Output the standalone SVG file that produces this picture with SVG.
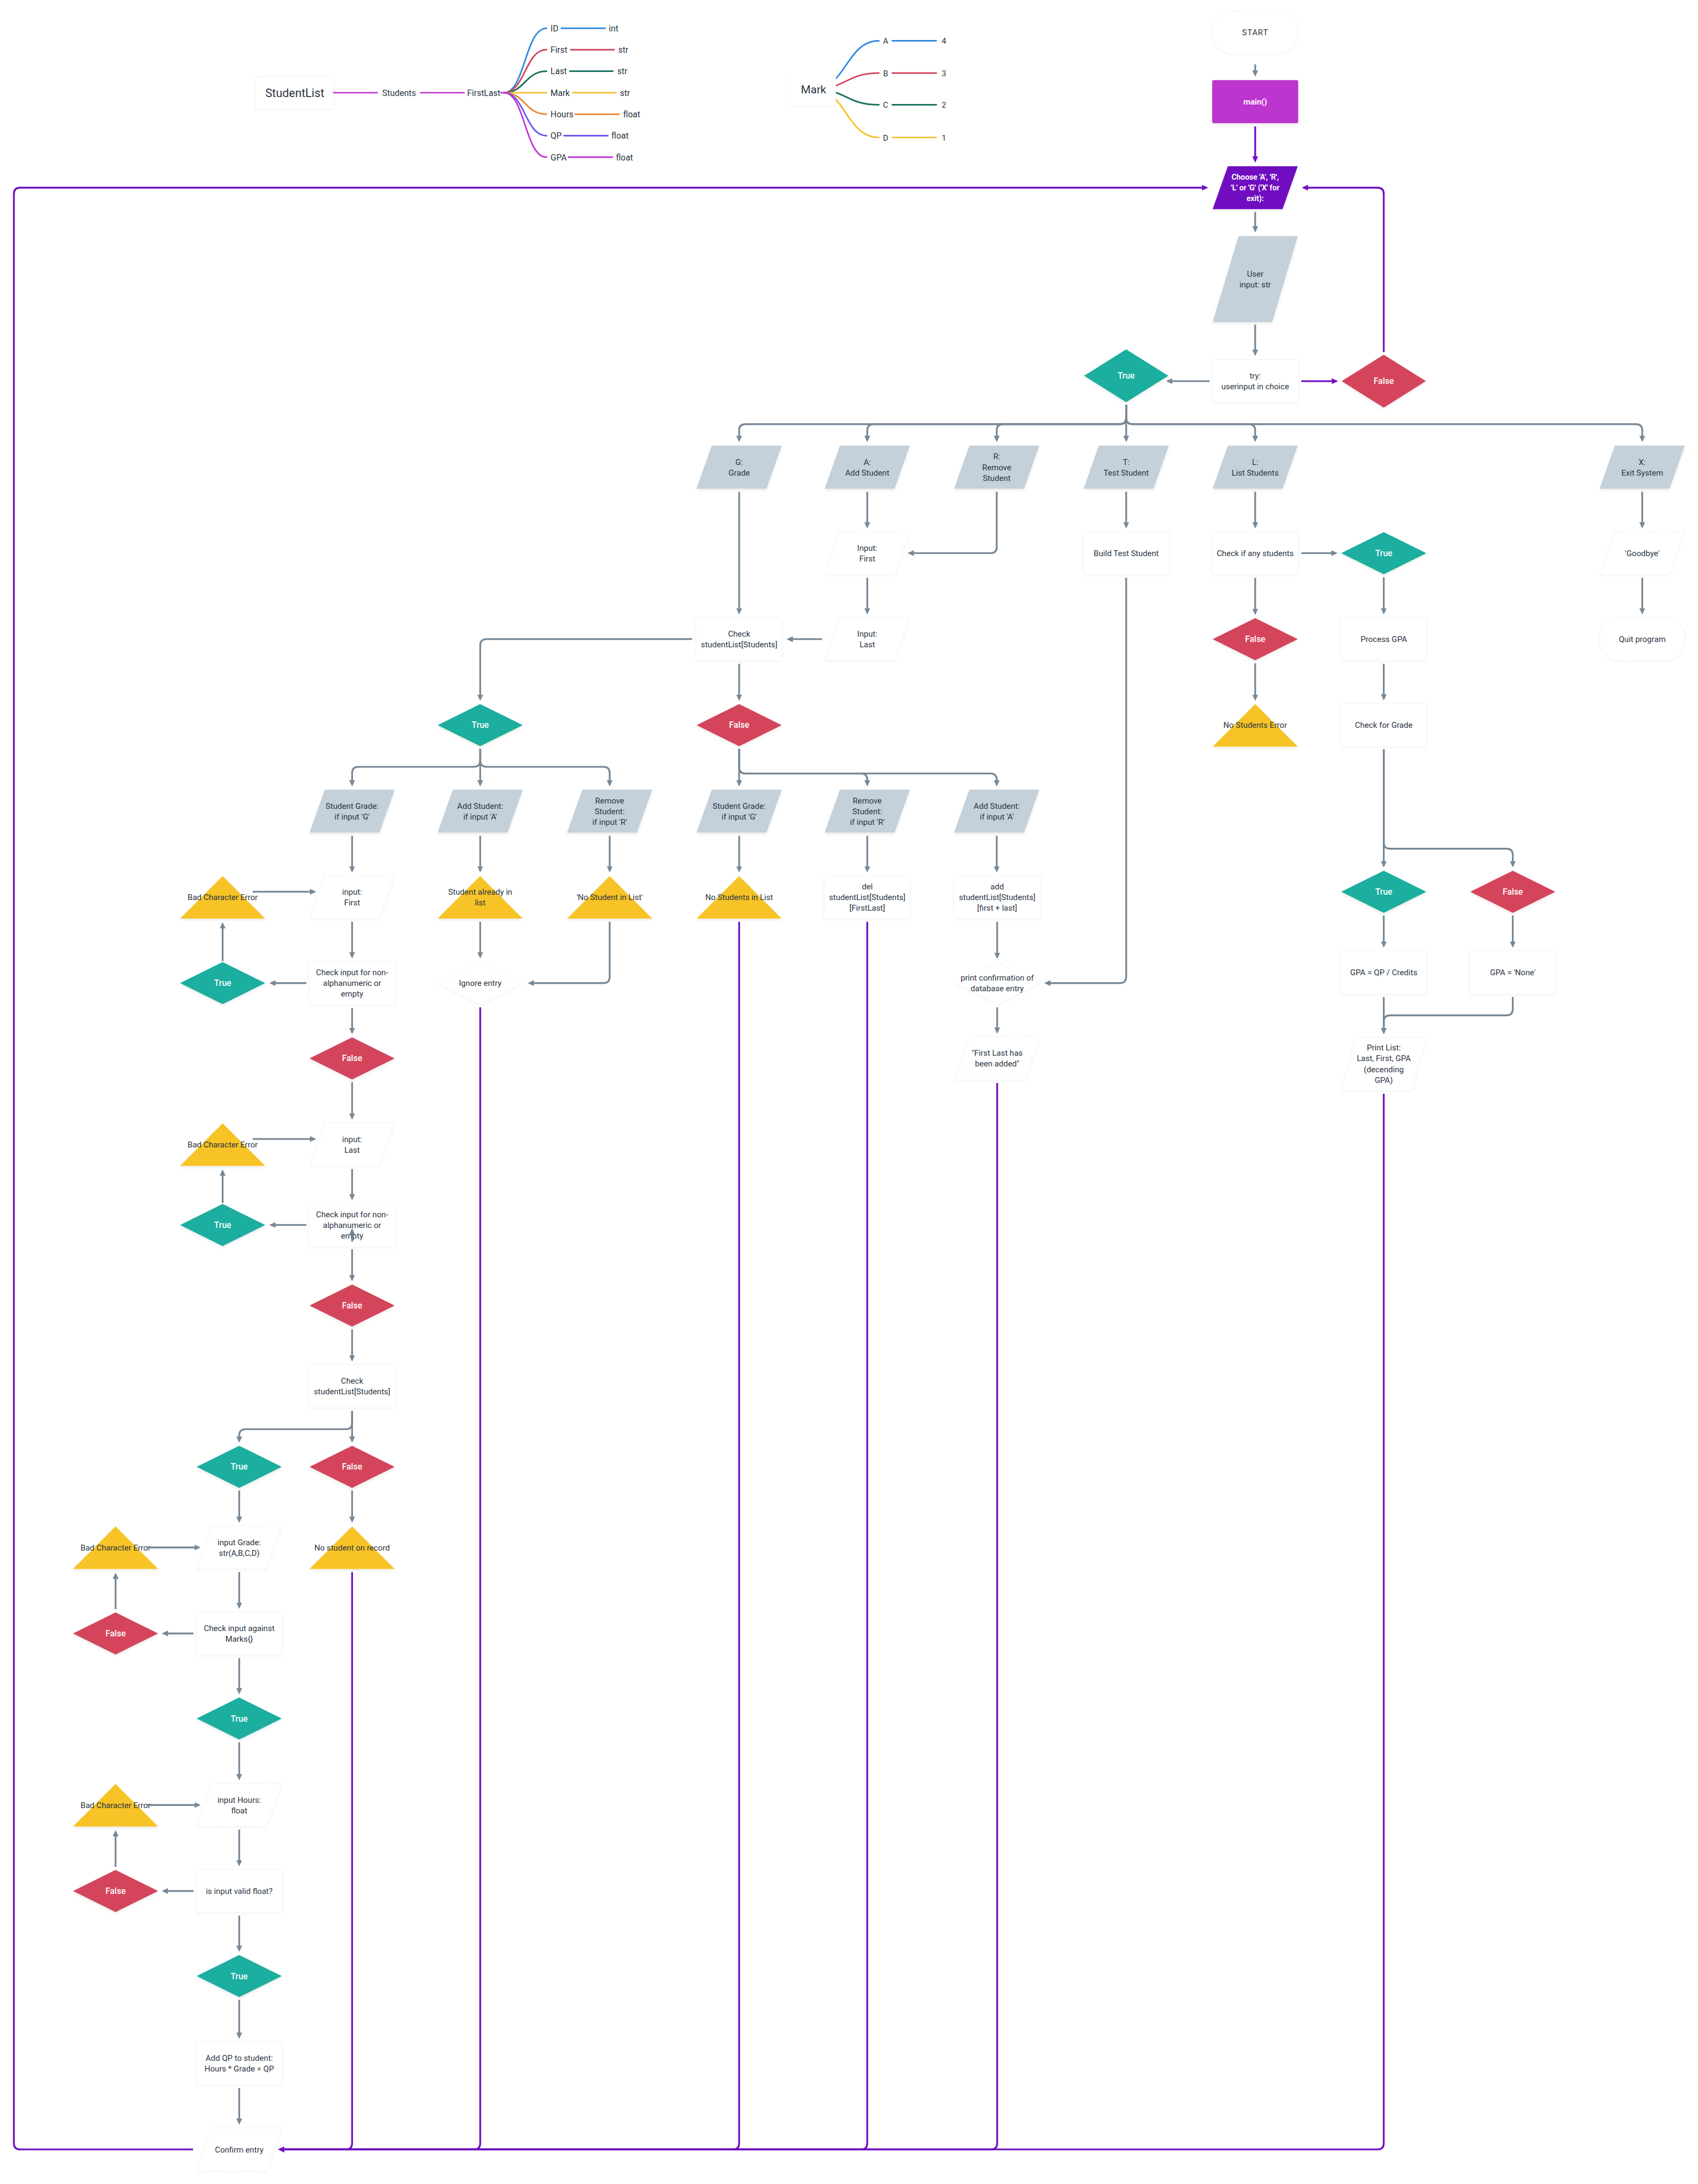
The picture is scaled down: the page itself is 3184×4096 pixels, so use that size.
<svg xmlns="http://www.w3.org/2000/svg" width="3184" height="4096" viewBox="0 0 3184 4096">
<defs>
<style>
.c{fill:none;stroke:#788896;stroke-width:4;marker-end:url(#ag)}
.p{fill:none;stroke:#7010c0;stroke-width:4;marker-end:url(#ap)}
.t{font-family:Roboto,"Liberation Sans",sans-serif;font-size:18px;fill:#2a3542;text-anchor:middle}
.w{fill:#ffffff;font-weight:500;font-size:19px}
.b{fill:#ffffff;font-weight:700}
.gp{fill:#c4d0da;filter:url(#sh)}
.wr{fill:#ffffff;stroke:#f1f2f4;stroke-width:1;filter:url(#shl)}
.wd{fill:#ffffff;stroke:#e4e7ea;stroke-width:1;stroke-dasharray:4 4;filter:url(#shl)}
.tr{fill:#1bae9f;filter:url(#sh)}
.fa{fill:#d4455c;filter:url(#sh)}
.yl{fill:#f7c325;filter:url(#sh)}
.sh{filter:url(#sh)}
.mt{font-family:Roboto,"Liberation Sans",sans-serif;font-size:19px;fill:#2a3542}
.ml{fill:none;stroke-width:3.5;stroke-linecap:round}
</style>
<marker id="ag" viewBox="0 0 14 14" refX="10" refY="7" markerWidth="14" markerHeight="14" markerUnits="userSpaceOnUse" orient="auto"><path d="M0,0.5 L14,7 L0,13.5 Z" fill="#788896"/></marker>
<marker id="ap" viewBox="0 0 14 14" refX="10" refY="7" markerWidth="14" markerHeight="14" markerUnits="userSpaceOnUse" orient="auto"><path d="M0,0.5 L14,7 L0,13.5 Z" fill="#7010c0"/></marker>
<filter id="sh" x="-10%" y="-10%" width="120%" height="130%"><feDropShadow dx="0" dy="3" stdDeviation="3" flood-color="#000000" flood-opacity="0.09"/></filter>
<filter id="shl" x="-10%" y="-10%" width="120%" height="130%"><feDropShadow dx="0" dy="2" stdDeviation="3" flood-color="#000000" flood-opacity="0.045"/></filter>
</defs>
<rect width="3184" height="4096" fill="#ffffff"/>
<g transform="scale(0.84)">

<g id="mm-studentlist">
<path class="ml" stroke="#3089df" d="M1125,207 C1172,207 1172,63 1220,63"/>
<path class="ml" stroke="#d4455c" d="M1125,207 C1172,207 1172,111 1220,111"/>
<path class="ml" stroke="#1b7260" d="M1125,207 C1172,207 1172,159 1220,159"/>
<path class="ml" stroke="#f6c12a" d="M1125,207 H1220"/>
<path class="ml" stroke="#eb883b" d="M1125,207 C1172,207 1172,255 1220,255"/>
<path class="ml" stroke="#6658f0" d="M1125,207 C1172,207 1172,303 1220,303"/>
<path class="ml" stroke="#c036d0" d="M1125,207 C1172,207 1172,351 1220,351"/>
<path class="ml" stroke="#c036d0" d="M1118,207 H1136"/>
<rect x="570" y="172" width="175" height="71" rx="4" class="wr"/>
<text x="658" y="217" class="t" style="font-size:26px">StudentList</text>
<path class="ml" stroke="#c036d0" d="M745,207 H842"/>
<text x="891" y="214" class="t" style="font-size:19px">Students</text>
<path class="ml" stroke="#c036d0" d="M939,207 H1036"/>
<text x="1080" y="214" class="t" style="font-size:19px">FirstLast</text>
<text x="1229" y="70" class="mt">ID</text><path class="ml" stroke="#3089df" d="M1253,63 H1351"/><text x="1359" y="70" class="mt">int</text>
<text x="1229" y="118" class="mt">First</text><path class="ml" stroke="#d4455c" d="M1274,111 H1371"/><text x="1380" y="118" class="mt">str</text>
<text x="1229" y="166" class="mt">Last</text><path class="ml" stroke="#1b7260" d="M1272,159 H1368"/><text x="1378" y="166" class="mt">str</text>
<text x="1229" y="214" class="mt">Mark</text><path class="ml" stroke="#f6c12a" d="M1278,207 H1375"/><text x="1384" y="214" class="mt">str</text>
<text x="1229" y="262" class="mt">Hours</text><path class="ml" stroke="#eb883b" d="M1284,255 H1382"/><text x="1391" y="262" class="mt">float</text>
<text x="1229" y="310" class="mt">QP</text><path class="ml" stroke="#6658f0" d="M1259,303 H1357"/><text x="1365" y="310" class="mt">float</text>
<text x="1229" y="358" class="mt">GPA</text><path class="ml" stroke="#c036d0" d="M1269,351 H1367"/><text x="1375" y="358" class="mt">float</text>
</g>

<g id="mm-mark">
<path class="ml" stroke="#3089df" d="M1816,199 C1889,199 1889,91 1962,91"/>
<path class="ml" stroke="#d4455c" d="M1816,199 C1889,199 1889,163 1962,163"/>
<path class="ml" stroke="#1b7260" d="M1816,199 C1889,199 1889,234 1962,234"/>
<path class="ml" stroke="#f6c12a" d="M1816,199 C1889,199 1889,307 1962,307"/>
<rect x="1765" y="162" width="101" height="73" rx="4" fill="#ffffff" style="filter:url(#shl)"/>
<text x="1816" y="208" class="t" style="font-size:25px">Mark</text>
<text x="1977" y="98" class="t">A</text><path class="ml" stroke="#3089df" d="M1992,91 H2090"/><text x="2107" y="98" class="t">4</text>
<text x="1977" y="170" class="t">B</text><path class="ml" stroke="#d4455c" d="M1992,163 H2090"/><text x="2107" y="170" class="t">3</text>
<text x="1977" y="241" class="t">C</text><path class="ml" stroke="#1b7260" d="M1992,234 H2090"/><text x="2107" y="241" class="t">2</text>
<text x="1977" y="314" class="t">D</text><path class="ml" stroke="#f6c12a" d="M1992,307 H2090"/><text x="2107" y="314" class="t">1</text>
</g>

<g id="nodes">
<g id="n-start"><rect x="2706" y="25" width="192" height="95" rx="47.5" class="wd"/><text x="2802" y="78.5" class="t" letter-spacing="1">START</text></g>
<g id="n-main"><rect x="2706" y="179" width="192" height="96" rx="4" fill="#bd35cf" class="sh"/><text x="2802" y="233.5" class="t b">main()</text></g>
<g id="n-choose"><polygon points="2741,371 2897,371 2863,467 2707,467" fill="#7010c0" class="sh"/><text class="t b" style="font-size:17px"><tspan x="2802" y="401">Choose 'A', 'R',</tspan><tspan x="2802" y="425">'L' or 'G' ('X' for</tspan><tspan x="2802" y="449">exit):</tspan></text></g>
<g id="n-userinput"><polygon points="2765,527 2897,527 2840,719 2707,719" class="gp"/><text class="t"><tspan x="2802" y="617.5">User</tspan><tspan x="2802" y="641.5">input: str</tspan></text></g>
<g id="n-try"><rect x="2706" y="803" width="193" height="95" rx="4" class="wr"/><text class="t"><tspan x="2802" y="845.5">try:</tspan><tspan x="2802" y="869.5">userinput in choice</tspan></text></g>
<g id="n-true1"><polygon points="2514,780 2608,839 2514,898 2420,839" class="tr"/><text x="2514" y="845.5" class="t w">True</text></g>
<g id="n-false1"><polygon points="3089,792 3183,851 3089,910 2995,851" class="fa"/><text x="3089" y="857.5" class="t w">False</text></g>

<g id="n-g"><polygon points="1589,995 1745,995 1711,1091 1555,1091" class="gp"/><text class="t"><tspan x="1650" y="1037.5">G:</tspan><tspan x="1650" y="1061.5">Grade</tspan></text></g>
<g id="n-a"><polygon points="1875,995 2031,995 1997,1091 1841,1091" class="gp"/><text class="t"><tspan x="1936" y="1037.5">A:</tspan><tspan x="1936" y="1061.5">Add Student</tspan></text></g>
<g id="n-r"><polygon points="2164,995 2320,995 2286,1091 2130,1091" class="gp"/><text class="t"><tspan x="2225" y="1025.5">R:</tspan><tspan x="2225" y="1049.5">Remove</tspan><tspan x="2225" y="1073.5">Student</tspan></text></g>
<g id="n-t"><polygon points="2453,995 2609,995 2575,1091 2419,1091" class="gp"/><text class="t"><tspan x="2514" y="1037.5">T:</tspan><tspan x="2514" y="1061.5">Test Student</tspan></text></g>
<g id="n-l"><polygon points="2741,995 2897,995 2863,1091 2707,1091" class="gp"/><text class="t"><tspan x="2802" y="1037.5">L:</tspan><tspan x="2802" y="1061.5">List Students</tspan></text></g>
<g id="n-x"><polygon points="3605,995 3761,995 3727,1091 3571,1091" class="gp"/><text class="t"><tspan x="3666" y="1037.5">X:</tspan><tspan x="3666" y="1061.5">Exit System</tspan></text></g>

<g id="n-inputfirst1"><polygon points="1875,1187 2031,1187 1997,1283 1841,1283" class="wd"/><text class="t"><tspan x="1936" y="1229.5">Input:</tspan><tspan x="1936" y="1253.5">First</tspan></text></g>
<g id="n-buildtest"><rect x="2418" y="1187" width="192" height="96" rx="4" class="wr"/><text x="2514" y="1241.5" class="t">Build Test Student</text></g>
<g id="n-checkany"><rect x="2706" y="1187" width="192" height="96" rx="4" class="wr"/><text x="2802" y="1241.5" class="t">Check if any students</text></g>
<g id="n-true2"><polygon points="3089,1188 3184,1235 3089,1282 2994,1235" class="tr"/><text x="3089" y="1241.5" class="t w">True</text></g>
<g id="n-goodbye"><polygon points="3605,1187 3761,1187 3727,1283 3571,1283" class="wd"/><text x="3666" y="1241.5" class="t">'Goodbye'</text></g>

<g id="n-checklist1"><rect x="1554" y="1379" width="192" height="96" rx="4" class="wr"/><text class="t"><tspan x="1650" y="1421.5">Check</tspan><tspan x="1650" y="1445.5">studentList[Students]</tspan></text></g>
<g id="n-inputlast1"><polygon points="1875,1379 2031,1379 1997,1475 1841,1475" class="wd"/><text class="t"><tspan x="1936" y="1421.5">Input:</tspan><tspan x="1936" y="1445.5">Last</tspan></text></g>
<g id="n-false2"><polygon points="2802,1380 2897,1427 2802,1474 2707,1427" class="fa"/><text x="2802" y="1433.5" class="t w">False</text></g>
<g id="n-processgpa"><rect x="2993" y="1379" width="192" height="96" rx="4" class="wr"/><text x="3089" y="1433.5" class="t">Process GPA</text></g>
<g id="n-quit"><rect x="3570" y="1379" width="192" height="96" rx="48" class="wd"/><text x="3666" y="1433.5" class="t">Quit program</text></g>

<g id="n-true3"><polygon points="1072,1572 1167,1619 1072,1666 977,1619" class="tr"/><text x="1072" y="1625.5" class="t w">True</text></g>
<g id="n-false3"><polygon points="1650,1572 1745,1619 1650,1666 1555,1619" class="fa"/><text x="1650" y="1625.5" class="t w">False</text></g>
<g id="n-nostudentserr"><polygon points="2802,1572 2897,1667 2707,1667" class="yl"/><text x="2802" y="1625.5" class="t">No Students Error</text></g>
<g id="n-checkgrade"><rect x="2993" y="1571" width="192" height="96" rx="4" class="wr"/><text x="3089" y="1625.5" class="t">Check for Grade</text></g>

<g id="n-sg1"><polygon points="725,1763 881,1763 847,1859 691,1859" class="gp"/><text class="t"><tspan x="786" y="1805.5">Student Grade:</tspan><tspan x="786" y="1829.5">if input 'G'</tspan></text></g>
<g id="n-as1"><polygon points="1011,1763 1167,1763 1133,1859 977,1859" class="gp"/><text class="t"><tspan x="1072" y="1805.5">Add Student:</tspan><tspan x="1072" y="1829.5">if input 'A'</tspan></text></g>
<g id="n-rs1"><polygon points="1300,1763 1456,1763 1422,1859 1266,1859" class="gp"/><text class="t"><tspan x="1361" y="1793.5">Remove</tspan><tspan x="1361" y="1817.5">Student:</tspan><tspan x="1361" y="1841.5">if input 'R'</tspan></text></g>
<g id="n-sg2"><polygon points="1589,1763 1745,1763 1711,1859 1555,1859" class="gp"/><text class="t"><tspan x="1650" y="1805.5">Student Grade:</tspan><tspan x="1650" y="1829.5">if input 'G'</tspan></text></g>
<g id="n-rs2"><polygon points="1875,1763 2031,1763 1997,1859 1841,1859" class="gp"/><text class="t"><tspan x="1936" y="1793.5">Remove</tspan><tspan x="1936" y="1817.5">Student:</tspan><tspan x="1936" y="1841.5">if input 'R'</tspan></text></g>
<g id="n-as2"><polygon points="2164,1763 2320,1763 2286,1859 2130,1859" class="gp"/><text class="t"><tspan x="2225" y="1805.5">Add Student:</tspan><tspan x="2225" y="1829.5">if input 'A'</tspan></text></g>

<g id="n-badchar1"><polygon points="497,1956 592,2051 402,2051" class="yl"/><text x="497" y="2009.5" class="t">Bad Character Error</text></g>
<g id="n-inputfirst2"><polygon points="725,1955 881,1955 847,2051 691,2051" class="wd"/><text class="t"><tspan x="786" y="1997.5">input:</tspan><tspan x="786" y="2021.5">First</tspan></text></g>
<g id="n-already"><polygon points="1072,1956 1167,2051 977,2051" class="yl"/><text class="t"><tspan x="1072" y="1997.5">Student already in</tspan><tspan x="1072" y="2021.5">list</tspan></text></g>
<g id="n-nostudentinlist"><polygon points="1361,1956 1456,2051 1266,2051" class="yl"/><text x="1361" y="2009.5" class="t">'No Student in List'</text></g>
<g id="n-nostudentsinlist"><polygon points="1650,1956 1745,2051 1555,2051" class="yl"/><text x="1650" y="2009.5" class="t">No Students in List</text></g>
<g id="n-del"><rect x="1840" y="1955" width="192" height="96" rx="4" class="wr"/><text class="t"><tspan x="1936" y="1985.5">del</tspan><tspan x="1936" y="2009.5">studentList[Students]</tspan><tspan x="1936" y="2033.5">[FirstLast]</tspan></text></g>
<g id="n-add"><rect x="2129" y="1955" width="194" height="96" rx="4" class="wr"/><text class="t"><tspan x="2226" y="1985.5">add</tspan><tspan x="2226" y="2009.5">studentList[Students]</tspan><tspan x="2226" y="2033.5">[first + last]</tspan></text></g>
<g id="n-true4"><polygon points="3089,1944 3184,1991 3089,2038 2994,1991" class="tr"/><text x="3089" y="1997.5" class="t w">True</text></g>
<g id="n-false4"><polygon points="3377,1944 3472,1991 3377,2038 3282,1991" class="fa"/><text x="3377" y="1997.5" class="t w">False</text></g>

<g id="n-true5"><polygon points="497,2148 592,2195 497,2242 402,2195" class="tr"/><text x="497" y="2201.5" class="t w">True</text></g>
<g id="n-checkinput1"><rect x="690" y="2147" width="192" height="97" rx="4" class="wr"/><text class="t"><tspan x="786" y="2177.5">Check input for non-</tspan><tspan x="786" y="2201.5">alphanumeric or</tspan><tspan x="786" y="2225.5">empty</tspan></text></g>
<g id="n-ignore"><polygon points="1072,2147 1167,2195 1072,2243 977,2195" class="wd"/><text x="1072" y="2201.5" class="t">Ignore entry</text></g>
<g id="n-printconf"><polygon points="2226,2148 2321,2195 2226,2243 2131,2195" class="wd"/><text class="t"><tspan x="2226" y="2189.5">print confirmation of</tspan><tspan x="2226" y="2213.5">database entry</tspan></text></g>
<g id="n-gpaqp"><rect x="2993" y="2123" width="192" height="96" rx="4" class="wr"/><text x="3089" y="2177.5" class="t">GPA = QP / Credits</text></g>
<g id="n-gpanone"><rect x="3281" y="2123" width="192" height="96" rx="4" class="wr"/><text x="3377" y="2177.5" class="t">GPA = 'None'</text></g>

<g id="n-false5"><polygon points="786,2316 881,2363 786,2410 691,2363" class="fa"/><text x="786" y="2369.5" class="t w">False</text></g>
<g id="n-added"><polygon points="2166,2315 2321,2315 2288,2411 2131,2411" class="wd"/><text class="t"><tspan x="2226" y="2357.5">"First Last has</tspan><tspan x="2226" y="2381.5">been added"</tspan></text></g>
<g id="n-printlist"><polygon points="3028,2316 3185,2316 3151,2435 2994,2435" class="wd"/><text class="t"><tspan x="3089" y="2345.5">Print List:</tspan><tspan x="3089" y="2369.5">Last, First, GPA</tspan><tspan x="3089" y="2393.5">(decending</tspan><tspan x="3089" y="2417.5">GPA)</tspan></text></g>

<g id="n-badchar2"><polygon points="497,2508 592,2603 402,2603" class="yl"/><text x="497" y="2561.5" class="t">Bad Character Error</text></g>
<g id="n-inputlast2"><polygon points="726,2507 882,2507 846,2603 691,2603" class="wd"/><text class="t"><tspan x="786" y="2549.5">input:</tspan><tspan x="786" y="2573.5">Last</tspan></text></g>

<g id="n-true6"><polygon points="497,2688 592,2735 497,2782 402,2735" class="tr"/><text x="497" y="2741.5" class="t w">True</text></g>
<g id="n-checkinput2"><rect x="690" y="2687" width="193" height="96" rx="4" class="wr"/><text class="t"><tspan x="786" y="2717.5">Check input for non-</tspan><tspan x="786" y="2741.5">alphanumeric or</tspan><tspan x="786" y="2765.5">empty</tspan></text></g>
<g id="n-false6"><polygon points="786,2868 881,2915 786,2962 691,2915" class="fa"/><text x="786" y="2921.5" class="t w">False</text></g>
<g id="n-checklist2"><rect x="690" y="3047" width="192" height="96" rx="4" class="wr"/><text class="t"><tspan x="786" y="3089.5">Check</tspan><tspan x="786" y="3113.5">studentList[Students]</tspan></text></g>

<g id="n-true7"><polygon points="534,3228 629,3275 534,3322 439,3275" class="tr"/><text x="534" y="3281.5" class="t w">True</text></g>
<g id="n-false7"><polygon points="786,3228 881,3275 786,3322 691,3275" class="fa"/><text x="786" y="3281.5" class="t w">False</text></g>

<g id="n-badchar3"><polygon points="258,3408 353,3503 163,3503" class="yl"/><text x="258" y="3461.5" class="t">Bad Character Error</text></g>
<g id="n-inputgrade"><polygon points="473,3407 629,3407 595,3503 439,3503" class="wd"/><text class="t"><tspan x="534" y="3449.5">input Grade:</tspan><tspan x="534" y="3473.5">str(A,B,C,D)</tspan></text></g>
<g id="n-norecord"><polygon points="786,3408 881,3503 691,3503" class="yl"/><text x="786" y="3461.5" class="t">No student on record</text></g>

<g id="n-false8"><polygon points="258,3600 353,3647 258,3694 163,3647" class="fa"/><text x="258" y="3653.5" class="t w">False</text></g>
<g id="n-checkmarks"><rect x="438" y="3599" width="192" height="96" rx="4" class="wr"/><text class="t"><tspan x="534" y="3641.5">Check input against</tspan><tspan x="534" y="3665.5">Marks{}</tspan></text></g>
<g id="n-true8"><polygon points="534,3790 629,3837 534,3884 439,3837" class="tr"/><text x="534" y="3843.5" class="t w">True</text></g>

<g id="n-badchar4"><polygon points="258,3983 353,4078 163,4078" class="yl"/><text x="258" y="4036.5" class="t">Bad Character Error</text></g>
<g id="n-inputhours"><polygon points="473,3982 629,3982 595,4078 439,4078" class="wd"/><text class="t"><tspan x="534" y="4024.5">input Hours:</tspan><tspan x="534" y="4048.5">float</tspan></text></g>
<g id="n-false9"><polygon points="258,4175 353,4222 258,4269 163,4222" class="fa"/><text x="258" y="4228.5" class="t w">False</text></g>
<g id="n-validfloat"><rect x="438" y="4174" width="192" height="96" rx="4" class="wr"/><text x="534" y="4228.5" class="t">is input valid float?</text></g>
<g id="n-true9"><polygon points="534,4365 629,4412 534,4459 439,4412" class="tr"/><text x="534" y="4418.5" class="t w">True</text></g>
<g id="n-addqp"><rect x="438" y="4559" width="192" height="96" rx="4" class="wr"/><text class="t"><tspan x="534" y="4601.5">Add QP to student:</tspan><tspan x="534" y="4625.5">Hours * Grade = QP</tspan></text></g>
<g id="n-confirm"><polygon points="474,4751 629,4751 595,4847 438,4847" class="wd"/><text x="534" y="4805.5" class="t">Confirm entry</text></g>
</g>

<g id="connectors">
<path class="c" d="M2802,144 V167"/>
<path class="p" d="M2802,282 V359"/>
<path class="c" d="M2802,473 V515"/>
<path class="c" d="M2802,725 V791"/>
<path class="c" d="M2700,851 H2607"/>
<path class="p" d="M2905,851 H2983"/>
<path class="p" d="M3089,786 V433 Q3089,419 3075,419 H2910"/>
<path class="c" d="M2514,904 V933 Q2514,947 2500,947 H1664 Q1650,947 1650,961 V983"/>
<path class="c" d="M2514,904 V933 Q2514,947 2500,947 H1950 Q1936,947 1936,961 V983"/>
<path class="c" d="M2514,904 V933 Q2514,947 2500,947 H2239 Q2225,947 2225,961 V983"/>
<path class="c" d="M2514,904 V983"/>
<path class="c" d="M2514,904 V933 Q2514,947 2528,947 H2788 Q2802,947 2802,961 V983"/>
<path class="c" d="M2514,904 V933 Q2514,947 2528,947 H3652 Q3666,947 3666,961 V983"/>
<path class="c" d="M1936,1098 V1176"/>
<path class="c" d="M2225,1098 V1221 Q2225,1235 2211,1235 H2030"/>
<path class="c" d="M2514,1098 V1176"/>
<path class="c" d="M2802,1098 V1176"/>
<path class="c" d="M3666,1098 V1176"/>
<path class="c" d="M1650,1098 V1368"/>
<path class="c" d="M1936,1290 V1368"/>
<path class="c" d="M1835,1427 H1760"/>
<path class="c" d="M2514,1290 V2181 Q2514,2195 2500,2195 H2335"/>
<path class="c" d="M2905,1235 H2982"/>
<path class="c" d="M2802,1290 V1369"/>
<path class="c" d="M3089,1289 V1368"/>
<path class="c" d="M3666,1290 V1368"/>
<path class="c" d="M1545,1427 H1086 Q1072,1427 1072,1441 V1561"/>
<path class="c" d="M1650,1482 V1561"/>
<path class="c" d="M2802,1481 V1561"/>
<path class="c" d="M3089,1482 V1560"/>
<path class="c" d="M1072,1672 V1698 Q1072,1712 1058,1712 H800 Q786,1712 786,1726 V1752"/>
<path class="c" d="M1072,1672 V1752"/>
<path class="c" d="M1072,1672 V1698 Q1072,1712 1086,1712 H1347 Q1361,1712 1361,1726 V1752"/>
<path class="c" d="M1650,1672 V1752"/>
<path class="c" d="M1650,1672 V1713 Q1650,1727 1664,1727 H1922 Q1936,1727 1936,1741 V1752"/>
<path class="c" d="M1650,1672 V1713 Q1650,1727 1664,1727 H2211 Q2225,1727 2225,1741 V1752"/>
<path class="c" d="M3089,1673 V1933"/>
<path class="c" d="M3089,1673 V1881 Q3089,1895 3103,1895 H3363 Q3377,1895 3377,1909 V1933"/>
<path class="c" d="M786,1866 V1944"/>
<path class="c" d="M1072,1866 V1944"/>
<path class="c" d="M1361,1866 V1944"/>
<path class="c" d="M1650,1866 V1944"/>
<path class="c" d="M1936,1866 V1944"/>
<path class="c" d="M2225,1866 V1944"/>
<path class="c" d="M564,1991 H702"/>
<path class="c" d="M786,2058 V2136"/>
<path class="c" d="M684,2195 H605"/>
<path class="c" d="M497,2146 V2063"/>
<path class="c" d="M1072,2058 V2136"/>
<path class="c" d="M1361,2058 V2181 Q1361,2195 1347,2195 H1182"/>
<path class="c" d="M2226,2058 V2137"/>
<path class="c" d="M3089,2044 V2112"/>
<path class="c" d="M3377,2044 V2112"/>
<path class="c" d="M3089,2226 V2305"/>
<path class="c" d="M3377,2226 V2253 Q3377,2267 3363,2267 H3103 Q3089,2267 3089,2281 V2305"/>
<path class="c" d="M2226,2249 V2304"/>
<path class="c" d="M786,2251 V2305"/>
<path class="c" d="M786,2416 V2496"/>
<path class="c" d="M564,2543 H702"/>
<path class="c" d="M786,2610 V2676"/>
<path class="c" d="M684,2735 H605"/>
<path class="c" d="M497,2686 V2615"/>
<path class="c" d="M786,2772 V2746"/>
<path class="c" d="M786,2789 V2857"/>
<path class="c" d="M786,2968 V3036"/>
<path class="c" d="M786,3150 V3177 Q786,3191 772,3191 H548 Q534,3191 534,3205 V3217"/>
<path class="c" d="M786,3150 V3217"/>
<path class="c" d="M534,3328 V3396"/>
<path class="c" d="M786,3328 V3396"/>
<path class="c" d="M327,3455 H444"/>
<path class="c" d="M534,3510 V3588"/>
<path class="c" d="M432,3647 H365"/>
<path class="c" d="M258,3593 V3515"/>
<path class="c" d="M534,3702 V3779"/>
<path class="c" d="M534,3890 V3971"/>
<path class="c" d="M327,4030 H444"/>
<path class="c" d="M534,4085 V4163"/>
<path class="c" d="M432,4222 H365"/>
<path class="c" d="M258,4168 V4090"/>
<path class="c" d="M534,4277 V4354"/>
<path class="c" d="M534,4465 V4548"/>
<path class="c" d="M534,4662 V4740"/>
<path class="p" d="M1072,2249 V4785 Q1072,4799 1058,4799 H625"/>
<path class="p" d="M786,3510 V4785 Q786,4799 772,4799 H625"/>
<path class="p" d="M1650,2058 V4785 Q1650,4799 1636,4799 H625"/>
<path class="p" d="M1936,2058 V4785 Q1936,4799 1922,4799 H625"/>
<path class="p" d="M2226,2418 V4785 Q2226,4799 2212,4799 H625"/>
<path class="p" d="M3089,2442 V4785 Q3089,4799 3075,4799 H625"/>
<path class="p" d="M431,4799 H45 Q31,4799 31,4785 V433 Q31,419 45,419 H2693"/>
</g>
</g>
</svg>
